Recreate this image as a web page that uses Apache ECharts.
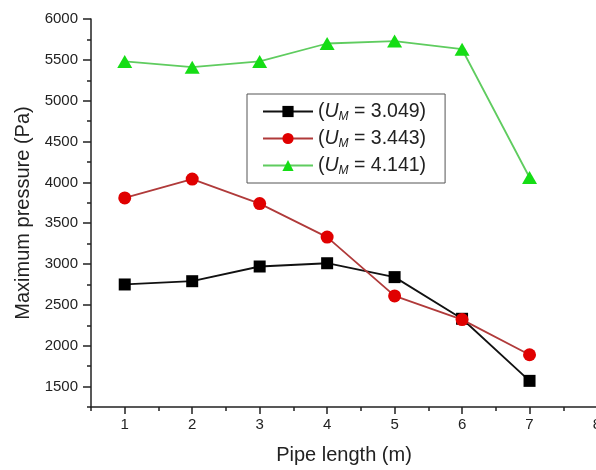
<!DOCTYPE html>
<html>
<head>
<meta charset="utf-8">
<script src="https://cdn.jsdelivr.net/npm/echarts@6/dist/echarts.min.js"></script>
<style>
html,body{margin:0;padding:0;background:#fff;}
#c{width:596px;height:470px;}
</style>
</head>
<body>
<div id="c"></div>
<script>
const pipeLength = [1, 2, 3, 4, 5, 6, 7];
const seriesNames = ['(U_M = 3.049)', '(U_M = 3.443)', '(U_M = 4.141)'];
const legendValues = ['3.049', '3.443', '4.141'];
const um3049 = [2750, 2790, 2970, 3010, 2840, 2330, 1570];
const um3443 = [3810, 4040, 3740, 3330, 2610, 2320, 1890];
const um4141 = [5480, 5410, 5480, 5700, 5730, 5630, 4060];
const xTickLabels = [1, 2, 3, 4, 5, 6, 7, 8];
const yTickLabels = [1500, 2000, 2500, 3000, 3500, 4000, 4500, 5000, 5500, 6000];

const chart = echarts.init(document.getElementById('c'), null, {renderer: 'canvas'});
const FONT = 'Liberation Sans, Arial, sans-serif';
const axisColor = '#222';

const option = {
  backgroundColor: '#fff',
  animation: false,
  grid: {left: 91, top: 19, right: -1, bottom: 63, containLabel: false, outerBoundsMode: 'none'},
  legend: {
    left: 247, top: 94,
    orient: 'vertical',
    padding: [6, 19, 6, 15],
    borderColor: '#555', borderWidth: 1,
    itemWidth: 50, itemHeight: 14, itemGap: 4,
    data: seriesNames,
    formatter: function (name) {
      const i = seriesNames.indexOf(name);
      return '{n|(}{i|U}{s|M}{n| = ' + legendValues[i] + ')}';
    },
    textStyle: {
      fontFamily: FONT, color: '#222',
      rich: {
        n: {fontSize: 19.5, fontFamily: FONT, color: '#222', lineHeight: 21},
        i: {fontSize: 19.5, fontFamily: FONT, fontStyle: 'italic', color: '#222', lineHeight: 21},
        s: {fontSize: 12, fontFamily: FONT, fontStyle: 'italic', color: '#222', lineHeight: 21, padding: [11, 0, 0, 0]}
      }
    }
  },
  xAxis: [
    {
      type: 'value', min: 0.5, max: 8,
      name: 'Pipe length (m)', nameLocation: 'middle', nameGap: 38,
      nameTextStyle: {fontFamily: FONT, fontSize: 20, color: '#222'},
      axisLine: {show: true, lineStyle: {color: axisColor, width: 1.5}},
      axisTick: {show: true, customValues: xTickLabels, length: 7, lineStyle: {color: axisColor, width: 1.5}},
      axisLabel: {customValues: xTickLabels, fontFamily: FONT, fontSize: 15, color: '#222', margin: 10},
      splitLine: {show: false}
    },
    {
      type: 'value', min: 0.5, max: 8, interval: 0.5, gridIndex: 0, position: 'bottom',
      axisLine: {show: false},
      axisTick: {show: true, length: 4, lineStyle: {color: axisColor, width: 1.5}},
      axisLabel: {show: false},
      splitLine: {show: false}
    }
  ],
  yAxis: [
    {
      type: 'value', min: 1250, max: 6000,
      name: 'Maximum pressure (Pa)', nameLocation: 'middle', nameGap: 58,
      nameTextStyle: {fontFamily: FONT, fontSize: 20, color: '#222'},
      axisLine: {show: true, lineStyle: {color: axisColor, width: 1.5}},
      axisTick: {show: true, customValues: yTickLabels, length: 8, lineStyle: {color: axisColor, width: 1.5}},
      axisLabel: {customValues: yTickLabels, formatter: function (v) { return String(v); }, fontFamily: FONT, fontSize: 15, color: '#222', margin: 13},
      splitLine: {show: false}
    },
    {
      type: 'value', min: 1250, max: 6000, interval: 250, gridIndex: 0, position: 'left',
      axisLine: {show: false},
      axisTick: {show: true, length: 4, lineStyle: {color: axisColor, width: 1.5}},
      axisLabel: {show: false},
      splitLine: {show: false}
    }
  ],
  series: [
    {
      name: seriesNames[0], type: 'line', xAxisIndex: 0, yAxisIndex: 0,
      data: pipeLength.map((x, i) => [x, um3049[i]]),
      symbol: 'rect', symbolSize: 12,
      lineStyle: {color: '#111', width: 1.8},
      itemStyle: {color: '#000'}, z: 2
    },
    {
      name: seriesNames[1], type: 'line', xAxisIndex: 0, yAxisIndex: 0,
      data: pipeLength.map((x, i) => [x, um3443[i]]),
      symbol: 'circle', symbolSize: 13,
      lineStyle: {color: '#b03a3a', width: 1.8},
      itemStyle: {color: '#e00000'}, z: 3
    },
    {
      name: seriesNames[2], type: 'line', xAxisIndex: 0, yAxisIndex: 0,
      data: pipeLength.map((x, i) => [x, um4141[i]]),
      symbol: 'triangle', symbolSize: [15, 13],
      lineStyle: {color: '#5fcc5f', width: 1.8},
      itemStyle: {color: '#15dd15'}, z: 4
    }
  ]
};
chart.setOption(option);
</script>
</body>
</html>
